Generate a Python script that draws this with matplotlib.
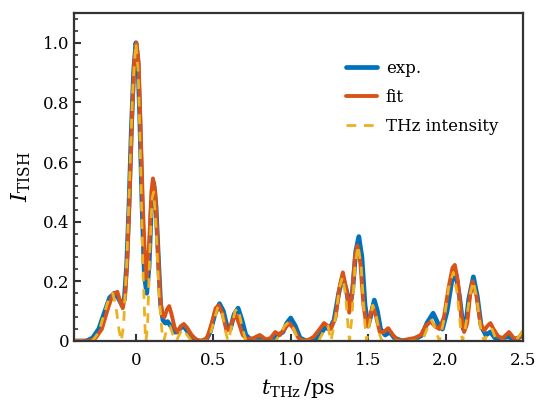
import matplotlib
matplotlib.use('Agg')
import matplotlib.pyplot as plt
from matplotlib.ticker import MultipleLocator
import numpy as np

plt.rcParams['font.family'] = 'DejaVu Serif'
plt.rcParams['mathtext.fontset'] = 'dejavuserif'

# exp. curve
t_exp = [-0.40, -0.32, -0.28, -0.24, -0.20, -0.17, -0.14, -0.115, -0.09, -0.075, -0.06, -0.045,
         -0.03, -0.015, 0.0, 0.012, 0.025, 0.04, 0.055, 0.07, 0.085, 0.10, 0.115, 0.13, 0.145,
         0.16, 0.175, 0.19, 0.205, 0.225, 0.25, 0.27, 0.29, 0.31, 0.33, 0.36, 0.40, 0.45, 0.48,
         0.51, 0.54, 0.565, 0.59, 0.61, 0.635, 0.66, 0.685, 0.71, 0.74, 0.80, 0.85, 0.88, 0.92,
         0.95, 0.975, 1.0, 1.03, 1.06, 1.10, 1.15, 1.19, 1.22, 1.25, 1.28, 1.31, 1.335, 1.36,
         1.38, 1.40, 1.42, 1.44, 1.46, 1.48, 1.50, 1.52, 1.54, 1.56, 1.58, 1.61, 1.64, 1.67,
         1.72, 1.80, 1.85, 1.88, 1.92, 1.95, 1.98, 2.01, 2.04, 2.065, 2.09, 2.115, 2.13, 2.15,
         2.18, 2.205, 2.23, 2.26, 2.29, 2.32, 2.36, 2.40, 2.44, 2.47, 2.50]
i_exp = [0.0, 0.0, 0.01, 0.04, 0.10, 0.145, 0.16, 0.145, 0.12, 0.14, 0.25, 0.45,
         0.70, 0.90, 1.0, 0.95, 0.75, 0.45, 0.22, 0.16, 0.25, 0.45, 0.53, 0.45, 0.28,
         0.12, 0.07, 0.06, 0.065, 0.05, 0.03, 0.03, 0.045, 0.048, 0.035, 0.01, 0.0, 0.0, 0.03,
         0.09, 0.125, 0.10, 0.045, 0.04, 0.09, 0.11, 0.07, 0.02, 0.005, 0.005, 0.0, 0.005, 0.02,
         0.03, 0.06, 0.077, 0.05, 0.01, 0.0, 0.0, 0.02, 0.045, 0.04, 0.07, 0.16, 0.215, 0.17,
         0.11, 0.17, 0.30, 0.35, 0.28, 0.12, 0.05, 0.09, 0.137, 0.10, 0.04, 0.02, 0.03, 0.01,
         0.0, 0.005, 0.02, 0.06, 0.093, 0.06, 0.04, 0.10, 0.20, 0.23, 0.15, 0.04, 0.05, 0.14,
         0.215, 0.15, 0.05, 0.02, 0.03, 0.01, 0.005, 0.015, 0.005, 0.01, 0.02]

# fit curve
t_fit = [-0.40, -0.30, -0.26, -0.22, -0.18, -0.15, -0.12, -0.10, -0.085, -0.07, -0.055, -0.04,
         -0.025, -0.01, 0.003, 0.018, 0.03, 0.045, 0.06, 0.07, 0.085, 0.10, 0.11, 0.125, 0.14,
         0.155, 0.17, 0.185, 0.20, 0.215, 0.23, 0.25, 0.27, 0.29, 0.31, 0.33, 0.36, 0.39, 0.42,
         0.46, 0.49, 0.515, 0.535, 0.56, 0.585, 0.605, 0.625, 0.645, 0.665, 0.69, 0.72, 0.76,
         0.80, 0.84, 0.87, 0.90, 0.93, 0.96, 0.99, 1.02, 1.05, 1.08, 1.12, 1.15, 1.18, 1.215,
         1.24, 1.26, 1.29, 1.315, 1.337, 1.36, 1.378, 1.395, 1.415, 1.43, 1.45, 1.47, 1.49,
         1.51, 1.53, 1.55, 1.575, 1.60, 1.63, 1.66, 1.70, 1.75, 1.80, 1.84, 1.87, 1.905, 1.93,
         1.96, 1.99, 2.02, 2.045, 2.06, 2.08, 2.10, 2.12, 2.14, 2.16, 2.175, 2.20, 2.225, 2.25,
         2.27, 2.29, 2.31, 2.34, 2.37, 2.41, 2.44, 2.46, 2.48, 2.50]
i_fit = [0.0, 0.0, 0.01, 0.04, 0.11, 0.155, 0.165, 0.13, 0.11, 0.15, 0.28, 0.50,
         0.75, 0.94, 1.0, 0.93, 0.72, 0.45, 0.26, 0.21, 0.32, 0.50, 0.545, 0.50, 0.33,
         0.16, 0.085, 0.08, 0.105, 0.117, 0.09, 0.045, 0.03, 0.05, 0.057, 0.045, 0.02, 0.005, 0.0,
         0.01, 0.06, 0.11, 0.12, 0.09, 0.035, 0.04, 0.07, 0.087, 0.06, 0.02, 0.005, 0.01,
         0.02, 0.005, 0.01, 0.03, 0.02, 0.04, 0.06, 0.04, 0.01, 0.0, 0.005, 0.015, 0.035, 0.06,
         0.05, 0.04, 0.08, 0.18, 0.23, 0.17, 0.095, 0.15, 0.28, 0.32, 0.26, 0.12, 0.05,
         0.08, 0.115, 0.085, 0.03, 0.03, 0.043, 0.02, 0.0, 0.005, 0.01, 0.02, 0.05, 0.065, 0.05,
         0.04, 0.08, 0.18, 0.245, 0.255, 0.20, 0.09, 0.03, 0.06, 0.16, 0.20, 0.15, 0.06, 0.035,
         0.05, 0.06, 0.04, 0.015, 0.01, 0.03, 0.01, 0.0, 0.015, 0.03]

# THz intensity
t_thz = [-0.40, -0.28, -0.24, -0.20, -0.17, -0.15, -0.13, -0.11, -0.095, -0.08, -0.06, -0.04,
         -0.02, 0.0, 0.015, 0.03, 0.045, 0.06, 0.065, 0.075, 0.09, 0.105, 0.115, 0.13, 0.15,
         0.17, 0.18, 0.20, 0.22, 0.24, 0.26, 0.29, 0.31, 0.33, 0.36, 0.47, 0.50, 0.53, 0.555,
         0.58, 0.595, 0.615, 0.64, 0.66, 0.685, 0.71, 0.90, 0.93, 0.96, 0.99, 1.02, 1.05, 1.18,
         1.21, 1.24, 1.26, 1.29, 1.315, 1.335, 1.355, 1.37, 1.38, 1.395, 1.415, 1.435, 1.455,
         1.475, 1.49, 1.51, 1.53, 1.55, 1.575, 1.59, 1.85, 1.88, 1.91, 1.935, 1.96, 1.99, 2.02,
         2.05, 2.075, 2.10, 2.11, 2.13, 2.155, 2.18, 2.205, 2.23, 2.25, 2.28, 2.30, 2.33, 2.45,
         2.48, 2.50]
i_thz = [0.0, 0.0, 0.03, 0.10, 0.15, 0.16, 0.12, 0.04, 0.0, 0.05, 0.25, 0.55,
         0.85, 1.0, 0.90, 0.60, 0.25, 0.03, 0.0, 0.05, 0.30, 0.48, 0.50, 0.38, 0.15,
         0.02, 0.0, 0.04, 0.05, 0.02, 0.0, 0.03, 0.04, 0.02, 0.0, 0.0, 0.06, 0.115, 0.10,
         0.03, 0.0, 0.04, 0.10, 0.11, 0.05, 0.0, 0.0, 0.02, 0.05, 0.065, 0.04, 0.0, 0.0,
         0.03, 0.05, 0.0, 0.08, 0.18, 0.215, 0.15, 0.05, 0.0, 0.08, 0.25, 0.32, 0.25,
         0.08, 0.0, 0.06, 0.12, 0.09, 0.02, 0.0, 0.0, 0.04, 0.07, 0.04, 0.0, 0.07, 0.18,
         0.23, 0.16, 0.03, 0.0, 0.05, 0.15, 0.20, 0.13, 0.03, 0.0, 0.03, 0.04, 0.0, 0.0,
         0.02, 0.035]

fig = plt.figure(figsize=(5.38, 4.04), dpi=100)
ax = fig.add_axes([0.1375, 0.156, 0.8345, 0.812])

ax.plot(t_exp, i_exp, color='#0072BD', linewidth=3.4, label='exp.',
        solid_capstyle='round', solid_joinstyle='round')
ax.plot(t_fit, i_fit, color='#D95319', linewidth=2.8, label='fit',
        solid_capstyle='round', solid_joinstyle='round')
ax.plot(t_thz, i_thz, color='#EDB120', linewidth=2.0, linestyle=(0, (3.5, 2.8)),
        label='THz intensity')

ax.set_xlim(-0.4, 2.5)
ax.set_ylim(0, 1.1)
ax.set_xticks([0, 0.5, 1.0, 1.5, 2.0, 2.5])
ax.set_xticklabels(['0', '0.5', '1.0', '1.5', '2.0', '2.5'])
ax.set_yticks([0, 0.2, 0.4, 0.6, 0.8, 1.0])
ax.set_yticklabels(['0', '0.2', '0.4', '0.6', '0.8', '1.0'])
ax.yaxis.set_minor_locator(MultipleLocator(0.04))
ax.tick_params(axis='both', which='major', direction='in', length=5, width=1.5, labelsize=12, color='#333333')
ax.tick_params(axis='y', which='minor', direction='in', length=3, width=1.2, color='#333333')
ax.tick_params(axis='x', pad=8)
for s in ax.spines.values():
    s.set_color('#333333')
    s.set_linewidth(1.6)

ax.set_xlabel(r'$t_{\mathrm{THz}}\,/\mathrm{ps}$', fontsize=15, labelpad=6)
ax.set_ylabel(r'$I_{\mathrm{TISH}}$', fontsize=16, labelpad=7)

ax.legend(loc='upper left', bbox_to_anchor=(0.572, 0.902), frameon=False, fontsize=12,
          handlelength=1.9, handletextpad=0.5, labelspacing=0.72)

plt.savefig('out.png', dpi=100)
